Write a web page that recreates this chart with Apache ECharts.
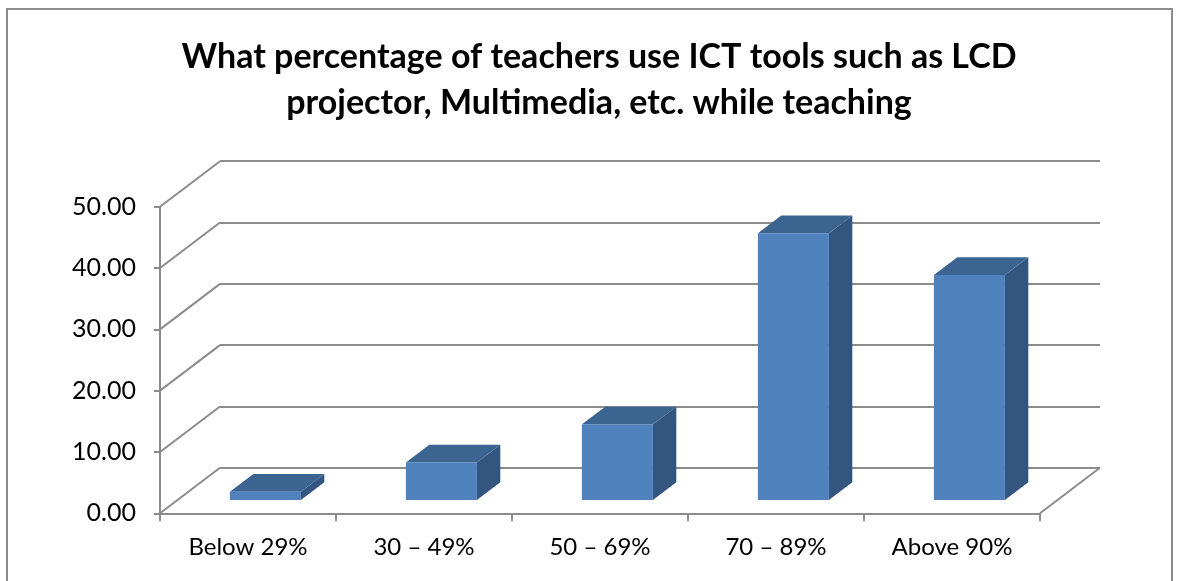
<!DOCTYPE html>
<html>
<head>
<meta charset="utf-8">
<script src="https://cdn.jsdelivr.net/npm/echarts@6/dist/echarts.min.js"></script>
<style>
  html, body { margin: 0; padding: 0; background: #fff; }
  #chart { width: 1179px; height: 581px; }
</style>
</head>
<body>
<div id="chart"></div>
<script>
// data
const categories = ['Below 29%', '30 – 49%', '50 – 69%', '70 – 89%', 'Above 90%']
const shares = [1.35, 6.15, 12.35, 43.5, 36.7]
const yTicks = [0, 10, 20, 30, 40, 50]

const titleText = 'What percentage of teachers use ICT tools such as LCD\nprojector, Multimedia, etc. while teaching'

// fake 3d: back wall is the front grid shifted by DX, DY
const DX = 60
const DY = -45.5
const F1 = 0.29 // bar front depth
const F2 = 0.68 // bar back depth
const BAR_W = 71

let myChart = echarts.init(document.getElementById('chart'))

function renderBar(params, api) {
  let idx = api.value(0)
  let val = api.value(1)
  let base = api.coord([idx, 0])
  let top = api.coord([idx, val])
  let cx = base[0] + F1 * DX
  let y0 = base[1] + F1 * DY
  let y1 = top[1] + F1 * DY
  let x0 = cx - BAR_W / 2
  let x1 = cx + BAR_W / 2
  let dx = (F2 - F1) * DX
  let dy = (F2 - F1) * DY
  return {
    type: 'group',
    children: [
      {
        type: 'polygon',
        shape: { points: [[x1, y0], [x1 + dx, y0 + dy], [x1 + dx, y1 + dy], [x1, y1]] },
        style: { fill: '#335680' }
      },
      {
        type: 'polygon',
        shape: { points: [[x0, y1], [x1, y1], [x1 + dx, y1 + dy], [x0 + dx, y1 + dy]] },
        style: { fill: '#3C6490' }
      },
      {
        type: 'rect',
        shape: { x: x0, y: y1, width: BAR_W, height: y0 - y1 },
        style: { fill: '#4F81BD' }
      }
    ]
  }
}

function renderWall(params, api) {
  let v = api.value(0)
  let p = api.coord([0, v])
  let sys = params.coordSys
  let x = sys.x
  let children = [
    {
      type: 'line',
      shape: { x1: x, y1: p[1], x2: x + DX, y2: p[1] + DY },
      style: { stroke: '#8c8c8c', lineWidth: 2 }
    }
  ]
  if (v === 0) {
    children.push({
      type: 'line',
      shape: { x1: x + sys.width, y1: p[1], x2: x + sys.width + DX, y2: p[1] + DY },
      style: { stroke: '#8c8c8c', lineWidth: 2 }
    })
  }
  return { type: 'group', children: children }
}

const option = {
  animation: false,
  graphic: [
    {
      type: 'rect',
      shape: { x: 7, y: 9, width: 1165, height: 600 },
      style: { fill: 'none', stroke: '#8c8c8c', lineWidth: 2 },
      z: 0
    },
    {
      type: 'text',
      x: 599,
      y: 34,
      style: {
        text: titleText,
        font: 'bold 34px Lato',
        fill: '#000',
        align: 'center',
        verticalAlign: 'top',
        lineHeight: 46
      }
    }
  ],
  grid: [
    { left: 160, right: 139, top: 206.7, bottom: 67.7 },
    { left: 160 + DX, right: 139 - DX, top: 206.7 + DY, bottom: 67.7 - DY }
  ],
  xAxis: [
    {
      type: 'category',
      gridIndex: 0,
      data: categories,
      axisLine: { lineStyle: { color: '#8c8c8c', width: 2 } },
      axisTick: { show: true, interval: 0, length: 8, lineStyle: { color: '#8c8c8c', width: 2 } },
      axisLabel: { color: '#000', fontSize: 24, fontFamily: 'Lato', margin: 22 }
    },
    {
      type: 'category',
      gridIndex: 1,
      data: categories,
      show: false
    }
  ],
  yAxis: [
    {
      type: 'value',
      gridIndex: 0,
      min: 0,
      max: 50,
      interval: 10,
      axisLine: { show: true, lineStyle: { color: '#8c8c8c', width: 2 } },
      axisTick: { show: true, length: 6, lineStyle: { color: '#8c8c8c', width: 2 } },
      splitLine: { show: false },
      axisLabel: {
        color: '#000',
        fontSize: 25,
        fontFamily: 'Lato',
        margin: 24,
        formatter: v => v.toFixed(2)
      }
    },
    {
      type: 'value',
      gridIndex: 1,
      min: 0,
      max: 50,
      interval: 10,
      axisLine: { show: false },
      axisTick: { show: false },
      axisLabel: { show: false },
      splitLine: { show: true, lineStyle: { color: '#8c8c8c', width: 2 } }
    }
  ],
  series: [
    {
      name: 'wall',
      type: 'custom',
      xAxisIndex: 0,
      yAxisIndex: 0,
      renderItem: renderWall,
      data: yTicks.map(v => [v]),
      encode: { y: 0 },
      silent: true,
      z: 1
    },
    {
      name: 'share',
      type: 'custom',
      xAxisIndex: 0,
      yAxisIndex: 0,
      renderItem: renderBar,
      data: shares.map((v, i) => [i, v]),
      encode: { x: 0, y: 1 },
      z: 5
    }
  ]
}
myChart.setOption(option)
window.onresize = function () {
  myChart.resize()
}
</script>
</body>
</html>
